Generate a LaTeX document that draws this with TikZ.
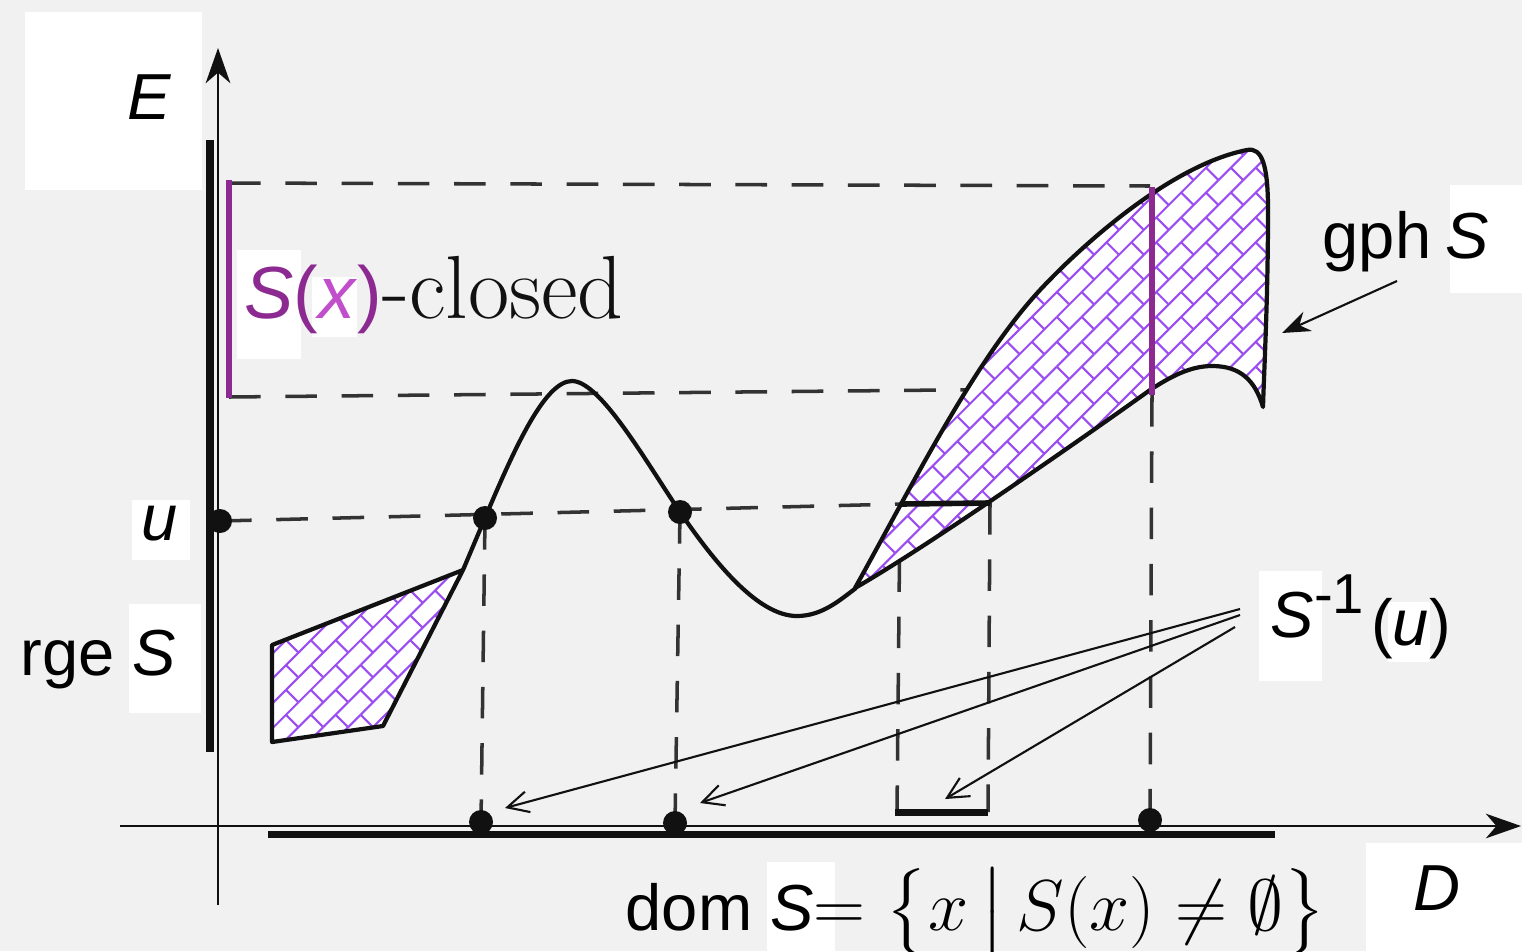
\documentclass[tikz,border=0pt]{standalone}
\usepackage{fix-cm}
\usepackage{amsmath}
\usepackage{fontspec}
\setsansfont{Liberation Sans}
\usepackage{tikz}
\usetikzlibrary{arrows.meta,positioning,calc,patterns.meta}
\definecolor{ink}{HTML}{111111}
\definecolor{paper}{HTML}{F1F1F1}
\definecolor{dashgray}{HTML}{333333}
\definecolor{plum}{HTML}{8C2A92}
\definecolor{orchid}{HTML}{C14FCC}
\definecolor{lilac}{HTML}{9B4DF2}

\tikzdeclarepattern{
  name=bricks45,
  type=uncolored,
  bounding box={(-0.5pt,-0.5pt) and (10.5pt,10.5pt)},
  tile size={(10pt,10pt)},
  tile transformation={rotate=45},
  code={
    \draw[line width=0.6pt] (0pt,0pt) -- (10pt,0pt) (0pt,5pt) -- (10pt,5pt)
      (0pt,0pt) -- (0pt,5pt) (5pt,5pt) -- (5pt,10pt);
  }
}

\begin{document}
\begin{tikzpicture}[x=0.01cm,y=-0.01cm,
    axisline/.style={ink,line width=0.6pt},
    curve/.style={ink,line width=1.2pt,line join=round},
    guide/.style={dashgray,line width=1pt,dash pattern=on 9pt off 7pt},
    blob/.style={circle,fill=ink,inner sep=0pt,minimum size=0.24cm},
    hatched/.style={curve,preaction={fill=white},pattern=bricks45,pattern color=lilac},
    whitepatch/.style={fill=white},
    lbl/.style={inner sep=0pt,anchor=base west,font=\sffamily\fontsize{18.5}{22}\selectfont},
    pointer/.style={ink,line width=0.6pt,-{Straight Barb[length=6pt,width=6pt]}}]
  \useasboundingbox (0,0) rectangle (1522,951);
  \fill[paper] (0,0) rectangle (1522,951);

  % white backings behind the labels
  \fill[whitepatch] (25,12) rectangle (202,190);
  \fill[whitepatch] (237,250) rectangle (301,359);
  \fill[whitepatch] (312,277) rectangle (357,337);
  \fill[whitepatch] (132,500) rectangle (190,560);
  \fill[whitepatch] (129,604) rectangle (201,713);
  \fill[whitepatch] (1450,185) rectangle (1522,293);
  \fill[whitepatch] (1259,571) rectangle (1322,681);
  \fill[whitepatch] (1388,602) rectangle (1430,662);
  \fill[whitepatch] (767,862) rectangle (835,951);
  \fill[whitepatch] (1366,843) rectangle (1522,951);

  % points
  \coordinate (u0) at (220,521);
  \coordinate (p1) at (485,518);
  \coordinate (p2) at (680,512);
  \coordinate (s1) at (900,504);
  \coordinate (s2) at (990,503);
  \coordinate (q1) at (481,822);
  \coordinate (q2) at (675,823);
  \coordinate (q3) at (1150,820);
  \coordinate (t1) at (897,812);
  \coordinate (t2) at (988,812);
  \coordinate (top) at (1152,187);
  \coordinate (bot) at (1152,395);

  % guides
  \draw[guide] (229,183) -- (1150,186);
  \draw[guide] (229,397) -- (1150,388);
  \draw[guide] (u0) -- (s1);
  \draw[guide] (p1) -- (q1);
  \draw[guide] (p2) -- (q2);
  \draw[guide] (s1) -- (t1);
  \draw[guide] (s2) -- (t2);
  \draw[guide] (bot) -- (q3);

  % graph of S
  \draw[hatched] (272,645) -- (463,570) -- (383,726) -- (272,742) -- cycle;
  \draw[curve] (463,570) -- (p1) .. controls (515,447) and (545,381) .. (572,381)
    .. controls (600,381) and (645,460) .. (p2)
    .. controls (715,563) and (758,616) .. (797,616)
    .. controls (822,616) and (840,600) .. (856,588);
  \draw[hatched] (855,588) .. controls (915,480) and (975,360) .. (1040,290)
    .. controls (1080,247) and (1170,165) .. (1247,150)
    .. controls (1262,147) and (1268,165) .. (1268,210)
    .. controls (1268,300) and (1264,370) .. (1263,407)
    .. controls (1255,380) and (1240,366) .. (1212,366)
    .. controls (1190,366) and (1170,377) .. (1150,390)
    .. controls (1090,433) and (930,545) .. (855,588) -- cycle;
  \draw[plum,line width=1.7pt] (top) -- (bot);

  % bars
  \draw[ink,line width=2.3pt] (210,140) -- (210,752);
  \draw[plum,line width=1.7pt] (229,180) -- (229,398);
  \draw[ink,line width=2pt] (268,834) -- (1275,834);
  \draw[ink,line width=1.6pt] (s1) -- (s2);
  \draw[ink,line width=2pt] (895,812) -- (988,812);

  % axes
  \draw[axisline,-{Stealth[length=10pt,width=7pt,inset=3pt]}] (218,905) -- (218,48);
  \draw[axisline,-{Stealth[length=10pt,width=7pt,inset=3pt]}] (120,826) -- (1521,826);

  \foreach \p in {u0,p1,p2,q1,q2,q3}
    \node[blob] at (\p) {};

  % labels
  \node[lbl,font=\sffamily\itshape\fontsize{18.5}{22}\selectfont] (E) at (127,119) {E};
  \node[inner sep=0pt,anchor=base west] (Sx) at (244,318)
    {\fontsize{21}{24}\selectfont\sffamily\color{plum}\textit{S}(\textcolor{orchid}{\textit{x}})%
     \rmfamily\color{ink}\fontsize{25.5}{28}\selectfont-closed};
  \node[lbl] (u) at (141,540) {\textit{u}};
  \node[lbl] (rge) at (20,675) {rge \textit{S}};
  \node[lbl] (gph) at (1322,258) {gph\kern4pt\textit{S}};
  \node[lbl] (sinv) at (1270,637)
    {\textit{S}\raisebox{6.8pt}{\fontsize{16}{16}\selectfont -1}\kern2pt\raisebox{-2.3pt}{(\textit{u})}};
  \node[lbl] (dom) at (625,930)
    {dom \textit{S}\fontsize{20.5}{24}\selectfont$=\big\{x\,\big|\,S(x)\neq\emptyset\big\}$};
  \node[lbl,font=\sffamily\itshape\fontsize{18.5}{22}\selectfont] (D) at (1413,910) {D};

  % pointers
  \coordinate (gtail) at (1397,281);
  \coordinate (ghead) at (1282,333);
  \draw[ink,line width=0.6pt,-{Stealth[length=8pt,width=6pt]}] (gtail) -- (ghead);
  \coordinate (a1) at (1240,609);
  \coordinate (a2) at (1240,615);
  \coordinate (a3) at (1235,627);
  \draw[pointer] (a1) -- (505,808);
  \draw[pointer] (a2) -- (700,803);
  \draw[pointer] (a3) -- (945,799);
\end{tikzpicture}
\end{document}
